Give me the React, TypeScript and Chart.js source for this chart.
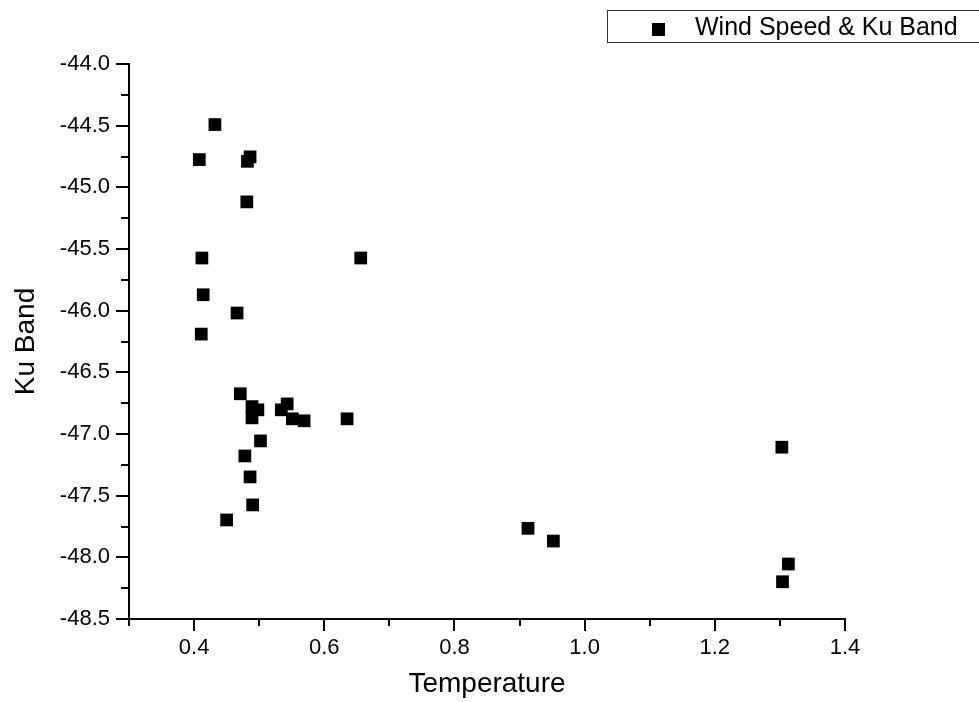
import React, { useEffect, useRef } from "react";
import { Chart, registerables } from "chart.js";

Chart.register(...registerables);

const seriesLabel = "Wind Speed & Ku Band";
const xTitle = "Temperature";
const yTitle = "Ku Band";

const temperature = [
  0.432, 0.408, 0.486, 0.482, 0.481, 0.412, 0.656, 0.414, 0.466, 0.411,
  0.471, 0.489, 0.498, 0.489, 0.543, 0.534, 0.551, 0.569, 0.635, 0.502,
  0.478, 0.486, 0.490, 0.450, 1.303, 0.913, 0.952, 1.313, 1.304,
];
const kuBand = [
  -44.491, -44.775, -44.753, -44.789, -45.118, -45.573, -45.573, -45.871, -46.019, -46.19,
  -46.674, -46.778, -46.804, -46.869, -46.756, -46.804, -46.877, -46.893, -46.877, -47.056,
  -47.178, -47.348, -47.575, -47.697, -47.107, -47.765, -47.868, -48.054, -48.198,
];

const xMin = 0.3;
const xMax = 1.4;
const xStep = 0.1;
const yMin = -48.5;
const yMax = -44.0;
const yStep = 0.25;

const FONT = "'Liberation Sans', Arial, sans-serif";

const tickPlugin = {
  id: "originTicks",
  afterDraw(chart: any) {
    const ctx = chart.ctx;
    const xs = chart.scales.x;
    const ys = chart.scales.y;
    const { left, bottom } = chart.chartArea;
    ctx.save();
    ctx.strokeStyle = "#000";
    ctx.lineWidth = 2;
    ctx.beginPath();
    xs.ticks.forEach((t: any) => {
      const px = Math.round(xs.getPixelForValue(t.value));
      const major = Math.round(t.value * 10) % 2 === 0;
      ctx.moveTo(px, bottom);
      ctx.lineTo(px, bottom + (major ? 12 : 7));
    });
    ys.ticks.forEach((t: any) => {
      const py = Math.round(ys.getPixelForValue(t.value));
      const major = Math.abs(Math.round(t.value * 4)) % 2 === 0;
      ctx.moveTo(left, py);
      ctx.lineTo(left - (major ? 13 : 8), py);
    });
    ctx.stroke();
    ctx.restore();
  },
};

const legendPlugin = {
  id: "boxLegend",
  afterDraw(chart: any) {
    const ctx = chart.ctx;
    const ds = chart.data.datasets[0];
    ctx.save();
    ctx.strokeStyle = "#333";
    ctx.lineWidth = 1;
    ctx.strokeRect(607.5, 10.5, 380, 32);
    ctx.fillStyle = "#000";
    ctx.fillRect(652, 23, 13, 13);
    ctx.font = `25px ${FONT}`;
    ctx.textBaseline = "middle";
    ctx.textAlign = "left";
    ctx.fillText(ds.label, 695, 28);
    ctx.restore();
  },
};

export default function App() {
  const ref = useRef<HTMLCanvasElement | null>(null);
  useEffect(() => {
    document.body.style.margin = "0";
    const canvas = ref.current;
    if (!canvas) return;
    const chart = new Chart(canvas, {
      type: "scatter",
      data: {
        datasets: [
          {
            label: seriesLabel,
            data: temperature.map((x, i) => ({ x, y: kuBand[i] })),
            backgroundColor: "#000",
            borderColor: "#000",
            borderWidth: 0,
            pointStyle: "rect",
            pointRadius: 9,
            pointHoverRadius: 9,
          },
        ],
      },
      options: {
        responsive: false,
        animation: false,
        events: [],
        layout: { padding: { top: 64, right: 134, bottom: 0, left: 0 } },
        plugins: {
          legend: { display: false },
          tooltip: { enabled: false },
        },
        scales: {
          x: {
            type: "linear",
            min: xMin,
            max: xMax,
            afterFit: (s: any) => {
              s.height = 83;
            },
            grid: { display: false, drawTicks: false },
            border: { display: true, color: "#000", width: 2 },
            ticks: {
              stepSize: xStep,
              padding: 16,
              color: "#000",
              font: { family: FONT, size: 22 },
              maxRotation: 0,
              autoSkip: false,
              callback: (v: any) => (Math.round(Number(v) * 10) % 2 === 0 ? Number(v).toFixed(1) : ""),
            },
            title: {
              display: true,
              text: xTitle,
              color: "#000",
              font: { family: FONT, size: 28 },
              padding: { top: 0, bottom: 1 },
            },
          },
          y: {
            type: "linear",
            min: yMin,
            max: yMax,
            afterFit: (s: any) => {
              s.width = 129;
            },
            grid: { display: false, drawTicks: false },
            border: { display: true, color: "#000", width: 2 },
            ticks: {
              stepSize: yStep,
              padding: 19,
              color: "#000",
              font: { family: FONT, size: 22 },
              autoSkip: false,
              callback: (v: any) =>
                Math.abs(Math.round(Number(v) * 4)) % 2 === 0 ? Number(v).toFixed(1) : "",
            },
            title: {
              display: true,
              text: yTitle,
              color: "#000",
              font: { family: FONT, size: 28 },
              padding: { top: 9, bottom: 0 },
            },
          },
        },
      },
      plugins: [tickPlugin, legendPlugin],
    });
    return () => chart.destroy();
  }, []);
  return (
    <div style={{ width: 979, height: 702 }}>
      <canvas ref={ref} width={979} height={702} style={{ display: "block" }} />
    </div>
  );
}
